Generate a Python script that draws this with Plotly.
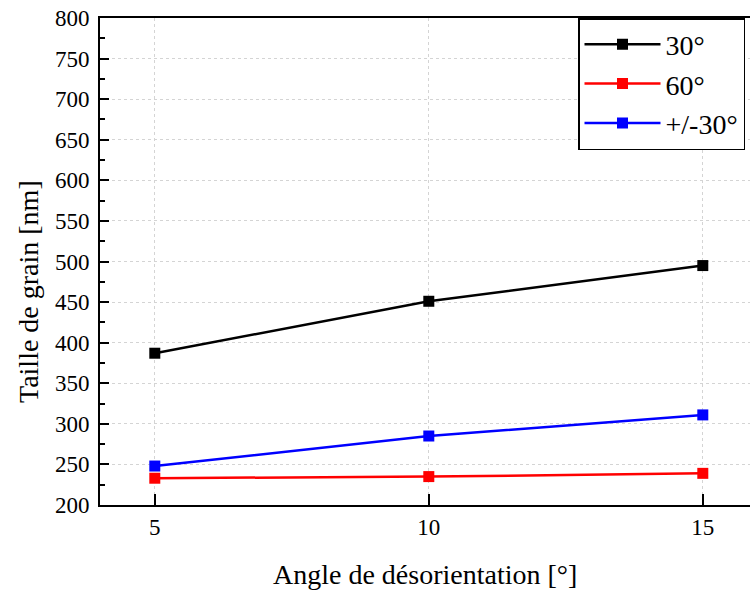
import plotly.graph_objects as go

angles = [5, 10, 15]
series_names = ["30°", "60°", "+/-30°"]
vals_30 = [387, 451, 495]
vals_60 = [233, 235, 239]
vals_pm30 = [248, 285, 311]
colors = ["black", "red", "blue"]

fig = go.Figure()
for name, vals, c in zip(series_names, [vals_30, vals_60, vals_pm30], colors):
    fig.add_trace(go.Scatter(
        x=angles, y=vals, name=name, mode="lines+markers",
        line=dict(color=c, width=2.5),
        marker=dict(symbol="square", size=11, color=c),
    ))

font_family = "Liberation Serif, DejaVu Serif, serif"
L, T, B, W, H = 100, 18, 87, 750, 592
pw = W - L
ph = H - T - B

fig.update_layout(
    width=W, height=H,
    margin=dict(l=L, r=0, t=T, b=B),
    plot_bgcolor="white", paper_bgcolor="white",
    font=dict(family=font_family, color="black", size=23),
    showlegend=True,
    legend=dict(
        x=(578 - L) / pw, xref="paper", xanchor="left",
        y=1, yanchor="top",
        bordercolor="black", borderwidth=1.5, bgcolor="white",
        font=dict(size=28, family=font_family),
        itemwidth=76, tracegroupgap=0,
    ),
    xaxis=dict(
        range=[4, 4 + pw / 54.8],
        tickvals=angles,
        showline=True, linecolor="black", linewidth=2, mirror=True,
        ticks="inside", ticklen=11, tickwidth=2, tickcolor="black",
        showgrid=True, gridcolor="#d4d4d4", griddash="dot", gridwidth=1,
        zeroline=False,
        tickfont=dict(size=23),
        ticklabelstandoff=0,
    ),
    yaxis=dict(
        range=[200, 800], dtick=50,
        showline=True, linecolor="black", linewidth=2, mirror=False,
        ticks="inside", ticklen=9, tickwidth=2, tickcolor="black",
        minor=dict(dtick=25, ticks="inside", ticklen=5, tickwidth=2, tickcolor="black", showgrid=False),
        showgrid=True, gridcolor="#d4d4d4", griddash="dot", gridwidth=1,
        zeroline=False,
        tickfont=dict(size=23),
        ticklabelstandoff=4,
    ),
    annotations=[
        dict(text="Angle de désorientation [°]", xref="paper", yref="paper",
             x=0.5, y=0, yshift=-(574 - (H - B)), xanchor="center", yanchor="middle",
             showarrow=False, font=dict(size=28)),
        dict(text="Taille de grain [nm]", xref="paper", yref="paper",
             x=0, xshift=-(L - 28), y=((H - B) - 292) / ph, xanchor="center", yanchor="middle",
             textangle=-90, showarrow=False, font=dict(size=28)),
    ],
)

fig.write_html("out.html", config={"displayModeBar": False},
               post_script="document.body.style.margin='0px';")
